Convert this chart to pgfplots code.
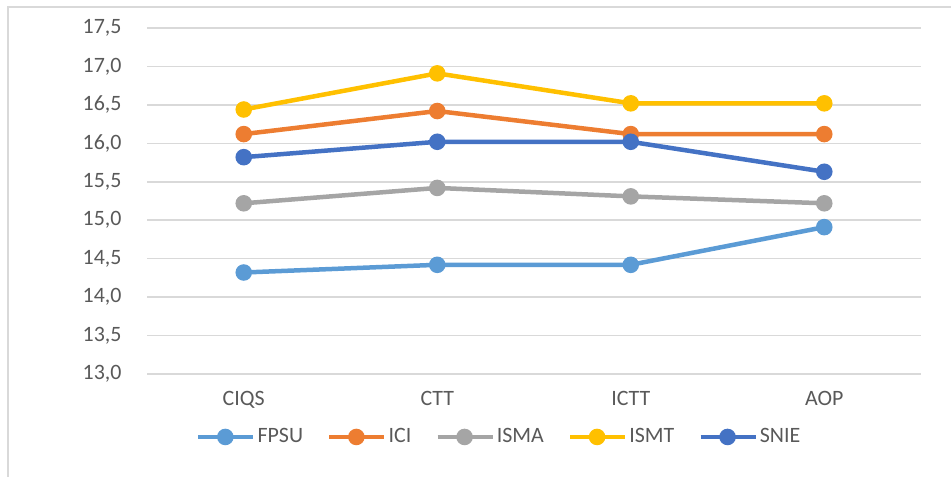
\documentclass[border=0pt]{standalone}
\usepackage{pgfplots}
\pgfplotsset{compat=1.18}
\usepackage{fontspec}
\setmainfont{Carlito}
\definecolor{cFPSU}{HTML}{5B9BD5}
\definecolor{cICI}{HTML}{ED7D31}
\definecolor{cISMA}{HTML}{A5A5A5}
\definecolor{cISMT}{HTML}{FFC000}
\definecolor{cSNIE}{HTML}{4472C4}
\definecolor{grid}{HTML}{D9D9D9}
\definecolor{txt}{HTML}{595959}
\begin{document}
\fontsize{22}{26}\selectfont
\begin{tikzpicture}[x=1bp,y=1bp]
\useasboundingbox (0,0) rectangle (951,477);
\draw[color=grid, line width=1.5bp] (8,0) -- (8,470) -- (951,470);
\begin{axis}[
  at={(147bp,103bp)}, anchor=south west,
  scale only axis, width=774bp, height=346bp,
  xmin=-0.5, xmax=3.5, ymin=13, ymax=17.5,
  xtick={0,1,2,3}, xticklabels={CIQS,CTT,ICTT,AOP},
  ytick={13,13.5,...,17.5},
  axis line style={draw=none},
  major tick length=0pt,
  ymajorgrids, grid style={color=grid, line width=1.5bp},
  /pgf/number format/.cd, fixed, fixed zerofill, precision=1, use comma, assume math mode=true,
  /pgfplots/.cd,
  tick label style={color=txt, font=\fontsize{22}{26}\selectfont},
  yticklabel style={xshift=-18bp},
  xticklabel style={yshift=-10bp},
  every axis plot/.append style={line width=4.5bp, mark=*, mark size=6bp, mark options={solid}},
  legend style={at={(0.455,-0.182)}, anchor=center, draw=none, fill=none,
    font=\fontsize{22}{26}\selectfont, text=txt, legend columns=5,
    /tikz/every even column/.append style={column sep=22bp},
    legend cell align=left},
  legend image code/.code={\draw[mark repeat=2,mark phase=2,#1] plot coordinates {(0bp,0bp)(27bp,0bp)(55bp,0bp)};},
  clip=false
]
\addplot[color=cFPSU] coordinates {(0,14.32) (1,14.42) (2,14.42) (3,14.91)};
\addlegendentry{FPSU}
\addplot[color=cICI] coordinates {(0,16.12) (1,16.42) (2,16.12) (3,16.12)};
\addlegendentry{ICI}
\addplot[color=cISMA] coordinates {(0,15.22) (1,15.42) (2,15.31) (3,15.22)};
\addlegendentry{ISMA}
\addplot[color=cISMT] coordinates {(0,16.44) (1,16.91) (2,16.52) (3,16.52)};
\addlegendentry{ISMT}
\addplot[color=cSNIE] coordinates {(0,15.82) (1,16.02) (2,16.02) (3,15.63)};
\addlegendentry{SNIE}
\end{axis}
\end{tikzpicture}
\end{document}
